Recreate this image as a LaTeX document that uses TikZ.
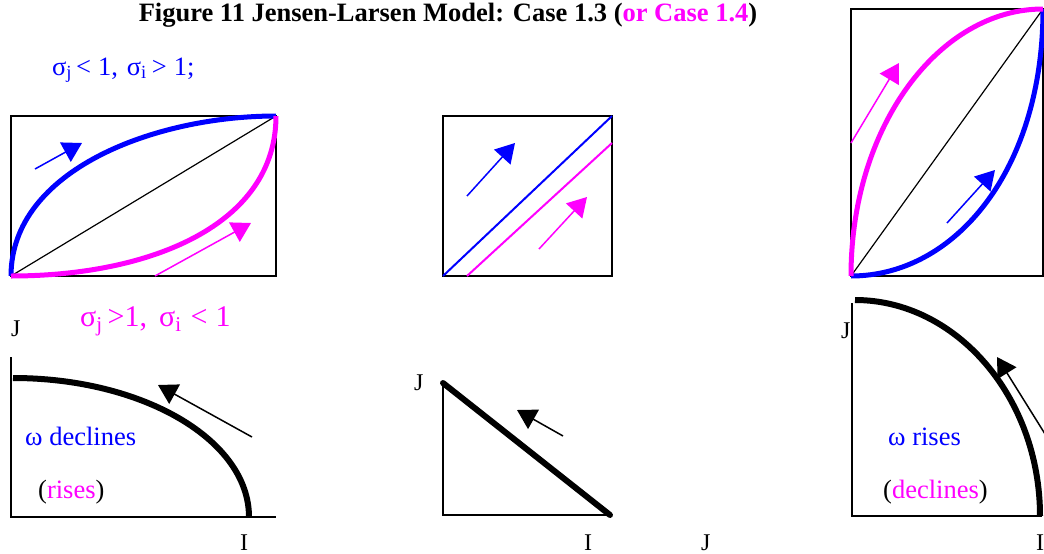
\documentclass[tikz,border=0pt]{standalone}
\usepackage{fontspec}
\setmainfont{Liberation Serif}
\usetikzlibrary{arrows.meta}
\definecolor{mag}{RGB}{255,0,255}
\definecolor{blu}{RGB}{0,0,255}
\begin{document}
\begin{tikzpicture}[x=1pt,y=-1pt,
  frame/.style={line width=1.8pt},
  axis/.style={line width=1.8pt},
  diag/.style={line width=1.2pt},
  fat/.style={line width=5pt},
  fatblack/.style={line width=6pt},
  parline/.style={line width=2pt},
  bigarrow/.style={line width=1.5pt,-{Triangle[length=19pt,width=22pt]}},
  title/.style={font=\fontsize{26.5}{28}\selectfont\bfseries, inner sep=0pt, anchor=base},
  cond/.style={font=\fontsize{26.5}{28}\selectfont, inner sep=0pt, anchor=base west},
  condbig/.style={font=\fontsize{30}{32}\selectfont, inner sep=0pt, anchor=base west},
  lbl/.style={font=\fontsize{26.5}{28}\selectfont, inner sep=0pt, anchor=base west},
  ax/.style={font=\fontsize{24}{26}\selectfont, inner sep=0pt, anchor=base west}]
\useasboundingbox (0,0) rectangle (1044,554);

% title and conditions
\node[title] (title) at (448,21) {Figure 11 Jensen-Larsen Model: Case 1.3 (\textcolor{mag}{or Case 1.4})};
\node[cond,text=blu] (c1) at (52,75) {σ\textsubscript{j}\hspace{4pt}<\hspace{7pt}1,\hspace{9pt}σ\textsubscript{i}\hspace{5pt}>\hspace{7pt}1;};
\node[condbig,text=mag] (c2) at (80,326) {σ\textsubscript{j}\hspace{5pt}>1,\hspace{12pt}σ\textsubscript{i}\hspace{9pt}<\hspace{8pt}1};

% ---------- top left panel ----------
\draw[frame] (11,116) rectangle (276,276);
\coordinate (tlA) at (11,276);
\coordinate (tlB) at (276,116);
\draw[diag] (tlA) -- (tlB);
\draw[fat,blu] (tlA) .. controls (11,170) and (155,116) .. (tlB);
\draw[fat,mag] (tlA) .. controls (150,276) and (276,225) .. (tlB);
\coordinate (a1s) at (35,169); \coordinate (a1t) at (82,143);
\draw[bigarrow,blu] (a1s) -- (a1t);
\coordinate (a2s) at (155,276); \coordinate (a2t) at (251,223);
\draw[bigarrow,mag] (a2s) -- (a2t);

% ---------- top middle panel ----------
\draw[frame] (443,116) rectangle (612,276);
\coordinate (tmA) at (443,276); \coordinate (tmB) at (612,116);
\coordinate (tmC) at (467,276); \coordinate (tmD) at (612,143);
\draw[parline,blu] (tmA) -- (tmB);
\draw[parline,mag] (tmC) -- (tmD);
\coordinate (a3s) at (467,196); \coordinate (a3t) at (515,143);
\draw[bigarrow,blu] (a3s) -- (a3t);
\coordinate (a4s) at (539,249); \coordinate (a4t) at (587,197);
\draw[bigarrow,mag] (a4s) -- (a4t);

% ---------- top right panel ----------
\draw[frame] (851,9) rectangle (1043,276);
\coordinate (trA) at (851,276); \coordinate (trB) at (1043,9);
\draw[diag] (trA) -- (trB);
\draw[fat,blu] (trA) .. controls (955,276) and (1043,170) .. (trB);
\draw[fat,mag] (trA) .. controls (851,125) and (940,9) .. (trB);
\coordinate (a5s) at (851,143); \coordinate (a5t) at (899,63);
\draw[bigarrow,mag] (a5s) -- (a5t);
\coordinate (a6s) at (947,223); \coordinate (a6t) at (995,170);
\draw[bigarrow,blu] (a6s) -- (a6t);

% ---------- bottom left panel ----------
\coordinate (blO) at (11,517);
\coordinate (blY) at (11,357);
\coordinate (blX) at (276,517);
\draw[axis] (blY) -- (blO) -- (blX);
\coordinate (blS) at (13,378); \coordinate (blE) at (249,517);
\draw[fatblack] (blS) .. controls (143,378) and (249,440) .. (blE);
\coordinate (a7s) at (252,437); \coordinate (a7t) at (158,385);
\draw[bigarrow] (a7s) -- (a7t);
\node[ax] (blJ) at (11,336) {J};
\node[ax] (blI) at (240,550) {I};
\node[lbl,text=blu] (bl1) at (25,445) {ω declines};
\node[lbl] (bl2) at (38,498) {(\textcolor{mag}{rises})};

% ---------- bottom middle panel ----------
\coordinate (bmO) at (443,515);
\coordinate (bmY) at (443,383);
\coordinate (bmX) at (610,515);
\draw[axis] (bmY) -- (bmO) -- (bmX);
\draw[fatblack,line cap=round] (bmY) -- (bmX);
\coordinate (a8s) at (563,436); \coordinate (a8t) at (517,410);
\draw[bigarrow] (a8s) -- (a8t);
\node[ax] (bmJ) at (414,390) {J};
\node[ax] (bmI) at (584,550) {I};
\node[ax] (bJ) at (701,550) {J};

% ---------- bottom right panel ----------
\coordinate (brO) at (852,516);
\coordinate (brY) at (852,303);
\coordinate (brX) at (1042,516);
\draw[axis] (brY) -- (brO) -- (brX);
\coordinate (brS) at (855,300); \coordinate (brE) at (1040,516);
\draw[fatblack] (brS) .. controls (956,300) and (1040,397) .. (brE);
\coordinate (a9s) at (1060,458); \coordinate (a9t) at (997,357);
\draw[bigarrow] (a9s) -- (a9t);
\node[ax] (brJ) at (841,338) {J};
\node[ax] (brI) at (1036,550) {I};
\node[lbl,text=blu] (br1) at (888,445) {ω rises};
\node[lbl] (br2) at (883,498) {(\textcolor{mag}{declines})};
\end{tikzpicture}
\end{document}
